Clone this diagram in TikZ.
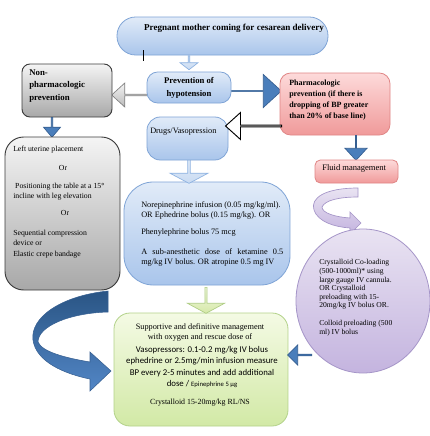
\documentclass[tikz,border=0pt]{standalone}
\usepackage{fontspec}
\setmainfont{Liberation Serif}
\newfontfamily\calib{Carlito}
\usetikzlibrary{shapes.arrows,shapes.geometric,fit}
\definecolor{lbT}{HTML}{E1EBF8}
\definecolor{lbB}{HTML}{A9C5EB}
\definecolor{lbD}{HTML}{7FA4D6}
\definecolor{gyT}{HTML}{F4F4F4}
\definecolor{gyB}{HTML}{A8A8A8}
\definecolor{gyD}{HTML}{3C3C3C}
\definecolor{pkT}{HTML}{FDDADA}
\definecolor{pkB}{HTML}{F09A9A}
\definecolor{pkD}{HTML}{E08686}
\definecolor{grT}{HTML}{F4FAE4}
\definecolor{grB}{HTML}{D2E9A6}
\definecolor{grD}{HTML}{B3D28A}
\definecolor{puT}{HTML}{E9E3F2}
\definecolor{puB}{HTML}{C4B4DF}
\definecolor{puD}{HTML}{A595C8}
\definecolor{blA}{HTML}{4A7EBB}
\definecolor{blD}{HTML}{365F91}
\definecolor{dkT}{HTML}{2A5584}
\definecolor{dkB}{HTML}{5286C6}
\definecolor{ltA}{HTML}{C9DBF2}
\definecolor{ltD}{HTML}{8DB2E1}
\definecolor{gaA}{HTML}{D5E8A8}
\definecolor{gaD}{HTML}{AFCD84}
\tikzset{
  bx/.style={inner sep=0pt, line width=0.6pt},
  bluebox/.style={bx, draw=lbD, top color=lbT, bottom color=lbB},
  graybox/.style={bx, draw=gyD, top color=gyT, bottom color=gyB, line width=0.7pt},
  pinkbox/.style={bx, draw=pkD, top color=pkT, bottom color=pkB},
  greenbox/.style={bx, draw=grD, top color=grT, bottom color=grB},
  purplebox/.style={bx, draw=puD, top color=puT, bottom color=puB},
  tx/.style 2 args={inner sep=0pt, font=\fontsize{#1pt}{#2pt}\selectfont},
  txb/.style 2 args={inner sep=0pt, font=\fontsize{#1pt}{#2pt}\selectfont\bfseries},
  barr/.style n args={5}{single arrow, inner sep=0pt, anchor=tail,
     minimum height=#1*0.75pt, minimum width=#2*0.75pt,
     single arrow head extend=#3*0.75pt, single arrow tip angle=#4,
     shape border rotate=#5},
  bluearr/.style={fill=blA, draw=blD, line width=0.5pt},
  ltarr/.style={top color=lbT, bottom color=ltA, draw=ltD, line width=0.5pt},
  grayarr/.style={top color=gyT, bottom color=gyB!80, draw=gray, line width=0.5pt},
  whitearr/.style={fill=white, draw=black, line width=0.7pt},
  greenarr/.style={top color=grT, bottom color=gaA, draw=gaD, line width=0.5pt},
}
\begin{document}
\begin{tikzpicture}[x=0.75pt,y=-0.75pt]
\path[use as bounding box, fill=white] (0,0) rectangle (429,436);

% dark blue curved arrow (behind boxes)
\path[top color=dkT, bottom color=dkB, draw=blD, line width=0.4pt]
  (108,291) .. controls (60,296) and (30,318) .. (33,340)
  .. controls (36,362) and (65,374) .. (90,379)
  -- (90,391) -- (111,371) -- (90,352) -- (90,362)
  .. controls (66,358) and (42,352) .. (38,342)
  .. controls (38,326) and (70,313) .. (108,312) -- cycle;

% top oval
\node[bluebox, rounded corners=14pt, fit={(117,17)(328,55)}] (top) {};
\node[txb={6.8}{8}] (toptx) at (234,28.5) {Pregnant mother coming for cesarean delivery};
\draw[black, line width=0.5pt] (143,50) -- (143,61);

% gray arrow left (under prevention box)
\node[grayarr, barr={36}{24}{5.5}{85}{180}] (a2) at (148,95) {};
% blue arrow right
\node[bluearr, barr={52}{33}{8}{85}{0}] (a3) at (229,91) {};

% prevention box
\node[bluebox, rounded corners=8pt, fit={(147,72)(231,103)}] (prev) {};
\node[txb={6.5}{9.75}, align=center] (prevtx) at (prev.center) {Prevention of\\hypotension};
\node[ltarr, barr={14}{18}{3.5}{104}{270}] (a1) at (prev.north |- top.south) {};

% non-pharmacologic
\node[graybox, rounded corners=6pt, fit={(22,64)(112,117)}] (nonph) {};
\node[txb={6.6}{9.4}, align=left, anchor=west] (nonphtx) at (29,86) {Non-\\pharmacologic\\prevention};
\node[bluearr, barr={20}{17}{3.5}{80}{270}] (a5) at (52,117) {};

% left gray box
\node[graybox, rounded corners=14pt, fit={(5,137)(120,290)}] (left) {};
\node[tx={5.8}{7.5}, anchor=west] (lb1) at (13,150) {Left uterine placement};
\node[tx={5.8}{7.5}] (lb2) at (63,168) {Or};
\node[tx={5.8}{7.5}, align=left, anchor=west] (lb3) at (13,192) {\ Positioning the table at a 15°\\incline with leg elevation};
\node[tx={5.8}{7.5}] (lb4) at (65,213) {Or};
\node[tx={5.8}{7.5}, align=left, anchor=west] (lb5) at (13,238) {Sequential compression\\device or};
\node[tx={5.8}{7.5}, anchor=west] (lb6) at (13,255) {Elastic crepe bandage};

% pharmacologic box
\node[pinkbox, rounded corners=8pt, fit={(280,73)(390,135)}] (pharm) {};
\node[txb={6}{8.25}, align=left, anchor=west] (pharmtx) at (289,100.5) {Pharmacologic\\prevention (if there is\\dropping of BP greater\\than 20\% of base line)};
\node[bluearr, barr={25}{22}{6}{85}{270}] (a8) at (356,135) {};

% big blue box
\node[bluebox, rounded corners=22pt, fit={(124,182)(290,285)}] (big) {};
\node[ltarr, barr={25}{38}{5}{124}{270}] (a6) at (189,158) {};
\node[tx={6.2}{7.5}, align=left, anchor=west] (bb1) at (141,210) {Norepinephrine infusion (0.05 mg/kg/ml).\\OR Ephedrine bolus (0.15 mg/kg). OR};
\node[tx={6.2}{7.5}, anchor=west] (bb2) at (141,233) {Phenylephrine bolus 75 mcg};
\node[tx={6.2}{7.5}, text width=106.5pt, align=justify, anchor=west] (bb3) at (141,257.5) {A sub-anesthetic dose of ketamine 0.5\linebreak mg/kg IV bolus. OR atropine 0.5 mg IV};

% drugs box
\node[bluebox, rounded corners=10pt, fit={(147,117)(228,160)}] (drugs) {};
\node[tx={6.2}{7.5}, anchor=west] (drugstx) at (150,132) {Drugs/Vasopression};
\node[whitearr, barr={56}{27}{7}{84}{180}] (a4) at (282,126) {};

% fluid management
\node[pinkbox, rounded corners=4pt, fit={(315,160)(398,183)}] (fluid) {};
\node[tx={6.4}{7.5}, anchor=west] (fluidtx) at (322,168) {Fluid management};

% purple curved arrow
\path[top color=puT, bottom color=puB, draw=puD, line width=0.5pt]
  (358,188) .. controls (325,188) and (310,198) .. (314,210)
  .. controls (318,222) and (335,227) .. (350,228)
  -- (350,234) -- (361,223) -- (350,212) -- (350,218)
  .. controls (335,217) and (322,213) .. (322,207)
  .. controls (325,200) and (340,197) .. (358,197) -- cycle;

% purple circle
\node[purplebox, ellipse, minimum width=100.5pt, minimum height=108pt] (circ) at (363,301) {};
\node[tx={5.7}{6.45}, align=left, anchor=west] (c1) at (319,284.5) {Crystalloid Co-loading\\(500-1000ml)* using\\large gauge IV cannula.\\OR Crystalloid\\preloading with 15-\\20mg/kg IV bolus OR.};
\node[tx={5.7}{7.2}, align=left, anchor=west] (c2) at (319,328) {Colloid preloading (500\\ml) IV bolus};

% green box
\node[greenbox, rounded corners=12pt, fit={(114,313)(288,426)}] (green) {};
\node[greenarr, barr={26}{37}{5.5}{123}{270}] (a7) at (206,287) {};
\node[bluearr, barr={24}{20}{4}{90}{180}] (a9) at (312,355) {};
\node[tx={6.2}{7.5}, align=center] (g1) at (200,332) {Supportive and definitive management\\with oxygen and rescue dose of};
\node[tx={6.6}{8.5}, align=center, font=\calib\fontsize{6.6pt}{8.5pt}\selectfont] (g2) at (202,367) {Vasopressors: 0.1-0.2 mg/kg IV bolus\\ephedrine or 2.5mg/min infusion measure\\BP every 2-5 minutes and add additional\\dose / {\fontsize{5pt}{6pt}\selectfont Epinephrine 5 µg}};
\node[tx={5.9}{7.5}] (g3) at (200,403) {Crystalloid 15-20mg/kg RL/NS};
\end{tikzpicture}
\end{document}
